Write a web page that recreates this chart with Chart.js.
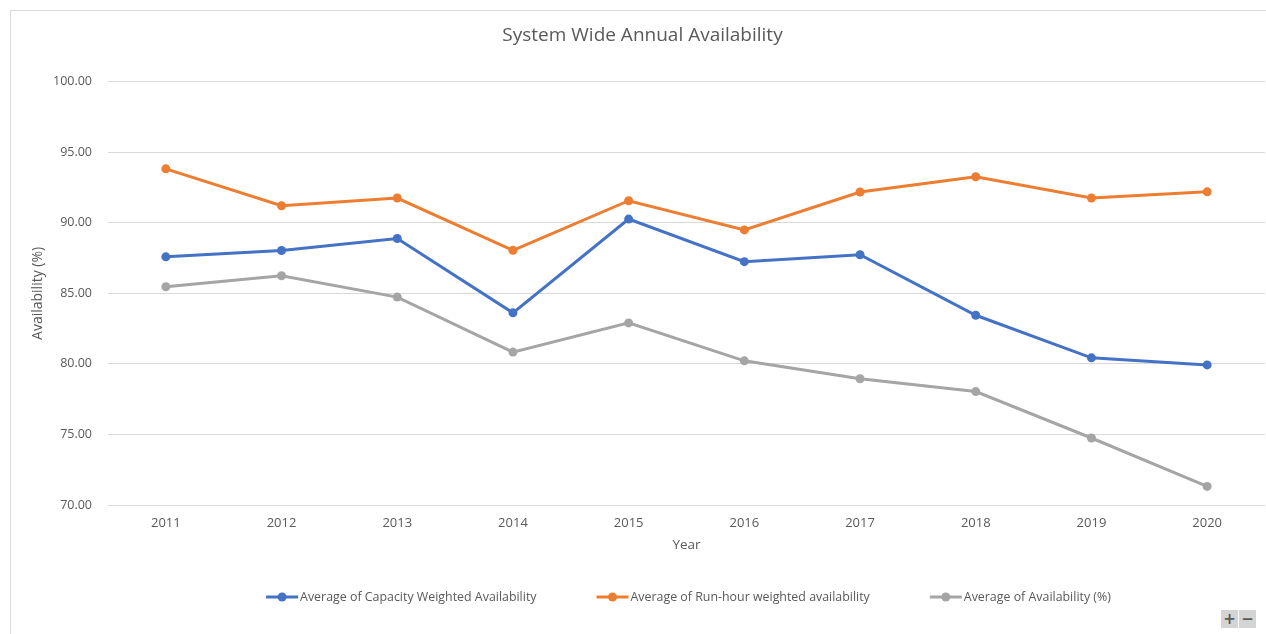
<!DOCTYPE html>
<html>
<head>
<meta charset="utf-8">
<script src="https://cdn.jsdelivr.net/npm/chart.js@4.4.1/dist/chart.umd.min.js"></script>
<style>
  html, body { margin: 0; padding: 0; background: #ffffff; overflow: hidden; }
  #frame {
    position: absolute; left: 10px; top: 10px; width: 1400px; height: 800px;
    border-left: 1px solid #d9d9d9; border-top: 1px solid #d9d9d9;
  }
  #wrap { position: absolute; left: 0; top: 0; width: 1266px; height: 634px; }
  .zbtn {
    position: absolute; top: 610px; width: 17px; height: 18px;
    background: #d4d4d4; color: #5a5a5a; font: bold 15px/18px "DejaVu Sans", sans-serif;
    text-align: center;
  }
</style>
</head>
<body>
<div id="frame"></div>
<div id="wrap"><canvas id="chart" width="1266" height="634"></canvas></div>
<div class="zbtn" style="left:1221px;">+</div>
<div class="zbtn" style="left:1239px;">&minus;</div>
<script>
// Annual availability figures, 2011–2020
const years = ['2011', '2012', '2013', '2014', '2015', '2016', '2017', '2018', '2019', '2020'];
const capacityWeighted = [87.59, 88.04, 88.89, 83.62, 90.27, 87.25, 87.74, 83.45, 80.43, 79.93];
const runHourWeighted = [93.83, 91.21, 91.76, 88.05, 91.57, 89.50, 92.19, 93.27, 91.76, 92.20];
const plainAvailability = [85.47, 86.25, 84.74, 80.84, 82.91, 80.22, 78.95, 78.04, 74.75, 71.32];
const seriesNames = [
  'Average of Capacity Weighted Availability',
  'Average of Run-hour weighted availability',
  'Average of Availability (%)'
];
const seriesColors = ['#4472C4', '#ED7D31', '#A5A5A5'];
const yTicks = [70, 75, 80, 85, 90, 95, 100];

const textColor = '#595959';
const baseFont = '"Open Sans", "Segoe UI", sans-serif';

function lineSeries(label, data, color) {
  return {
    label, data,
    borderColor: color, backgroundColor: color,
    borderWidth: 3, pointRadius: 4.5, pointHoverRadius: 4.5,
    pointBackgroundColor: color, pointBorderColor: color, pointBorderWidth: 0,
    tension: 0, fill: false
  };
}

// Legend drawn beneath the axes: short line with a dot, then the series name
const lineLegend = {
  id: 'lineLegend',
  afterDraw(chart) {
    const ctx = chart.ctx;
    const area = chart.chartArea;
    const y = 597;
    const markW = 32, markGap = 2, itemGap = 60;
    ctx.save();
    ctx.font = '12.4px "Open Sans", sans-serif';
    const widths = chart.data.datasets.map(d => ctx.measureText(d.label).width);
    const total = widths.reduce((a, w) => a + markW + markGap + w, 0) + itemGap * (widths.length - 1);
    let x = (area.left + area.right) / 2 - total / 2 + 2;
    chart.data.datasets.forEach((d, i) => {
      ctx.strokeStyle = d.borderColor;
      ctx.fillStyle = d.borderColor;
      ctx.lineWidth = 3;
      ctx.beginPath();
      ctx.moveTo(x, y);
      ctx.lineTo(x + markW, y);
      ctx.stroke();
      ctx.beginPath();
      ctx.arc(x + markW / 2, y, 4.5, 0, Math.PI * 2);
      ctx.fill();
      ctx.fillStyle = textColor;
      ctx.textBaseline = 'middle';
      ctx.textAlign = 'left';
      ctx.fillText(d.label, x + markW + markGap, y);
      x += markW + markGap + widths[i] + itemGap;
    });
    ctx.restore();
  }
};

new Chart(document.getElementById('chart'), {
  type: 'line',
  data: {
    labels: years,
    datasets: [
      lineSeries(seriesNames[0], capacityWeighted, seriesColors[0]),
      lineSeries(seriesNames[1], runHourWeighted, seriesColors[1]),
      lineSeries(seriesNames[2], plainAvailability, seriesColors[2])
    ]
  },
  options: {
    responsive: false,
    animation: false,
    devicePixelRatio: 1,
    layout: { autoPadding: false, padding: { top: 15, left: 20, right: 1, bottom: 0 } },
    plugins: {
      legend: { display: false },
      tooltip: { enabled: false },
      title: {
        display: true,
        text: 'System Wide Annual Availability',
        color: textColor,
        font: { family: baseFont, size: 19, weight: 'normal' },
        padding: { top: 9, bottom: 35 }
      }
    },
    scales: {
      x: {
        type: 'category',
        offset: true,
        grid: { display: false, drawTicks: false },
        border: { display: false },
        ticks: { color: textColor, font: { family: baseFont, size: 13 }, padding: 10, maxRotation: 0 },
        title: {
          display: true, text: 'Year', color: textColor,
          font: { family: baseFont, size: 13.5 },
          padding: { top: 6, bottom: 81 }
        },
        afterFit(scale) { scale.height = 129; }
      },
      y: {
        min: 70, max: 100,
        afterBuildTicks(scale) { scale.ticks = yTicks.map(v => ({ value: v })); },
        grid: { color: '#d9d9d9', lineWidth: 1, drawTicks: false },
        border: { display: false },
        ticks: {
          color: textColor, font: { family: baseFont, size: 12.5 }, padding: 16,
          callback: v => Number(v).toFixed(2)
        },
        title: {
          display: true, text: 'Availability (%)', color: textColor,
          font: { family: baseFont, size: 14 },
          padding: { top: 10, bottom: 6 }
        },
        afterFit(scale) { scale.width = 88; }
      }
    }
  },
  plugins: [lineLegend]
});
</script>
</body>
</html>
